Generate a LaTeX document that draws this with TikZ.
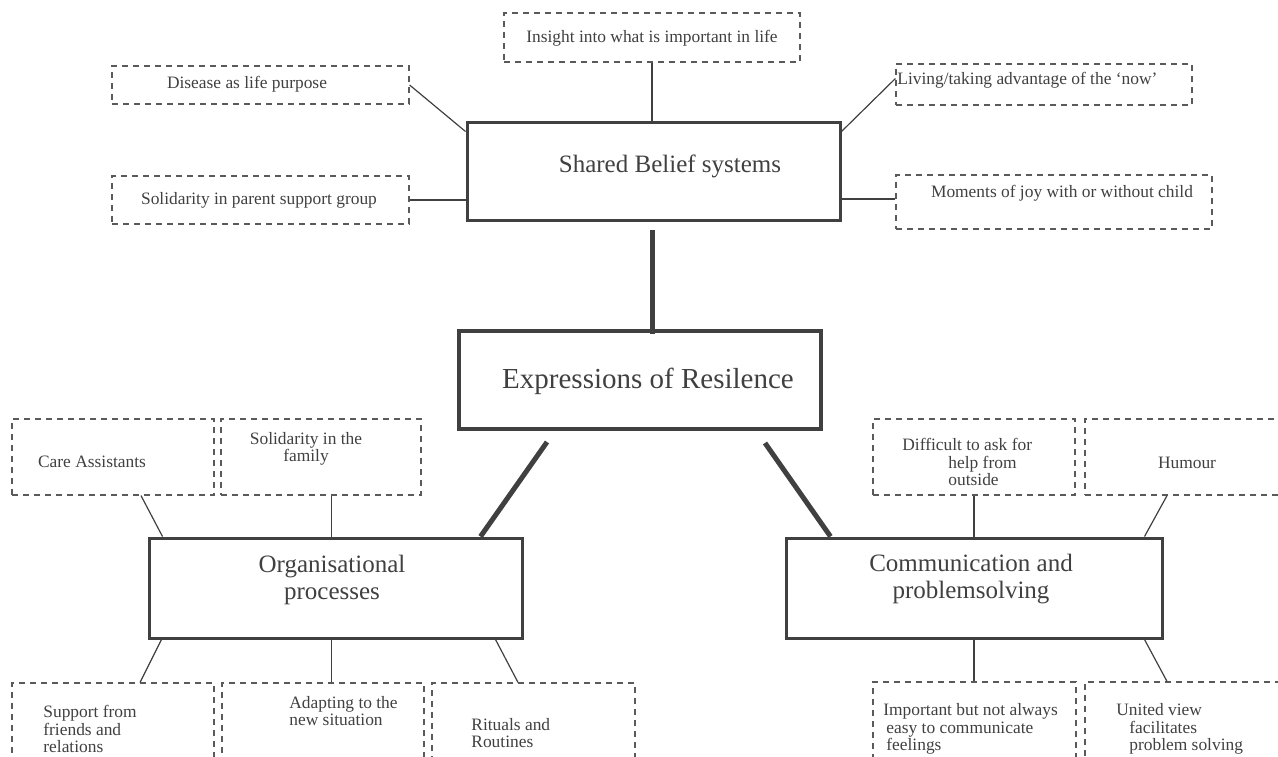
\documentclass[tikz,border=0pt]{standalone}
\usepackage{fontspec}
\setmainfont{Liberation Serif}
\usetikzlibrary{positioning, calc}

\definecolor{inkgray}{HTML}{404040}
\definecolor{dashgray}{HTML}{5A5A5A}

\begin{document}
\begin{tikzpicture}[
        x=0.5pt, y=-0.5pt,
        theme/.style={draw=inkgray, line width=1.5pt, rectangle, inner sep=0pt},
        core/.style={theme, line width=2pt},
        aspect/.style={draw=dashgray, line width=0.6pt, dash pattern=on 3pt off 2.5pt, rectangle, inner sep=0pt},
        small/.style={text=inkgray, inner sep=0pt, font=\fontsize{8.7}{8.7}\selectfont},
        big/.style={text=inkgray, inner sep=0pt, align=center, font=\fontsize{12.5}{13.5}\selectfont},
        link/.style={draw=inkgray, line width=0.6pt},
        bond/.style={draw=inkgray, line width=2.5pt},
    ]
        \useasboundingbox (0,0) rectangle (1278,756);
        \clip (0,0) rectangle (1278,756);

        % Draw the dashed boxes of the sub-themes
        \foreach \name / \cx / \cy / \w / \h in {
                insight/652/37.5/148/24.5, disease/260.5/85/148.5/19,
                living/1044/84.5/148/20.5, solparent/260.5/200/148.5/24,
                moments/1054/202/158/27,
                care/113/457/101/38, solfamily/321/457/100/38,
                support/113/751.5/101/68.5, adapting/323/751.5/101/68.5,
                rituals/533.5/751.5/101.5/68.5,
                difficult/974/457/101/38, humour/1187.5/457/102.5/38,
                important/974.5/751/101.5/69, united/1187.5/751/102.5/69}
            \node[aspect, minimum width=\w pt, minimum height=\h pt] (\name) at (\cx,\cy) {};

        % Draw the main themes
        \node[theme, minimum width=186.5pt, minimum height=49pt] (shared) at (653.5,171) {};
        \node[core, minimum width=181pt, minimum height=49pt] (expr) at (640,380) {};
        \node[theme, minimum width=186.5pt, minimum height=50pt] (org) at (335.5,588) {};
        \node[theme, minimum width=188pt, minimum height=50pt] (comm) at (974,588) {};

        % Texts of the main themes
        \node[big] (t-shared) at (670,166) {Shared Belief systems};
        \node[big, font=\fontsize{14.5}{15}\selectfont] (t-expr) at (648,381) {Expressions of Resilence};
        \node[big] (t-org) at (332,580) {Organisational\\processes};
        \node[big] (t-comm) at (971,579) {Communication and\\problemsolving};

        % Texts of the sub-themes
        \node[small] (t-insight) at (652,38) {Insight into what is important in life};
        \node[small] (t-disease) at (247,84) {Disease as life purpose};
        \node[small, anchor=west] (t-living) at (897,80) {Living/taking advantage of the ‘now’};
        \node[small] (t-solparent) at (259,200) {Solidarity in parent support group};
        \node[small] (t-moments) at (1062,193) {Moments of joy with or without child};
        \node[small] (t-care) at (92,462) {Care Assistants};
        \node[small, align=center] (t-solfamily) at (306,449) {Solidarity in the\\family};
        \node[small, align=left, anchor=west] (t-support) at (43,729) {Support from\\friends and\\relations};
        \node[small, align=left, anchor=west] (t-adapting) at (289,711) {Adapting to the\\new situation};
        \node[small, align=left, anchor=west] (t-rituals) at (471,733) {Rituals and\\Routines};
        \node[small, align=left, anchor=west] (t-difficult) at (902,462) {Difficult to ask for\\\hspace*{23pt}help from\\\hspace*{23pt}outside};
        \node[small] (t-humour) at (1187,463) {Humour};
        \node[small, align=left, anchor=west] (t-important) at (883,729) {Important but not always\\\hspace*{1.5pt}easy to communicate\\\hspace*{1.5pt}feelings};
        \node[small, align=left, anchor=west] (t-united) at (1116,729) {United view\\\hspace*{6.5pt}facilitates\\\hspace*{6.5pt}problem solving};

        % Connect the sub-themes with shared beliefs
        \draw[link] (insight.south) -- (insight.south |- shared.north);
        \draw[link] (disease.east) -- ($(shared.north west)+(0,11)$);
        \draw[link] ($(living.west)+(0,-6)$) -- ($(shared.north east)+(0,11)$);
        \draw[link] (solparent.east) -- (solparent.east -| shared.west);
        \draw[link] ($(moments.west)+(0,-3)$) coordinate (m) -- (m -| shared.east);

        % Connect the main themes with the core
        \draw[bond] ($(shared.south)+(-1.5,8)$) -- ($(expr.north)+(12,5)$);
        \draw[bond] ($(expr.south)+(-93,11)$) -- ($(org.north east)+(-43,0)$);
        \draw[bond] ($(expr.south)+(125,12)$) -- ($(comm.north west)+(46,0)$);

        % Connect the sub-themes with organisational processes
        \draw[link] ($(care.south)+(28,0)$) -- ($(org.north west)+(15,0)$);
        \draw[link] ($(org.north)+(-4,0)$) coordinate (o) -- (o |- solfamily.south);
        \draw[link] ($(org.south west)+(14,0)$) -- ($(support.north)+(27,0)$);
        \draw[link] ($(org.south)+(-4,0)$) coordinate (o) -- (o |- adapting.north);
        \draw[link] ($(org.south east)+(-28,0)$) -- ($(rituals.north)+(-15.5,0)$);

        % Connect the sub-themes with communication
        \draw[link] (comm.north) -- (comm.north |- difficult.south);
        \draw[link] ($(humour.south)+(-20.5,0)$) -- ($(comm.north east)+(-19,0)$);
        \draw[link] (comm.south) -- (comm.south |- important.north);
        \draw[link] ($(comm.south east)+(-19,0)$) -- ($(united.north)+(-20.5,0)$);
    \end{tikzpicture}
\end{document}
